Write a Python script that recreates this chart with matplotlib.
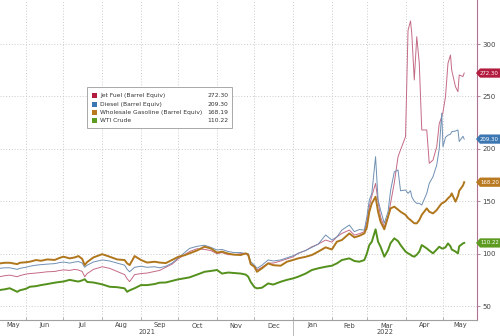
import matplotlib
matplotlib.use('Agg')
import matplotlib.pyplot as plt
import matplotlib.dates as mdates
import matplotlib.transforms as mtransforms
from matplotlib.patches import Polygon, Rectangle
import pandas as pd

# sample dates (roughly twice a week, denser through the spring 2022 spike)
dates = [
    '2021-05-11', '2021-05-15', '2021-05-19', '2021-05-25', '2021-05-27',
    '2021-06-01', '2021-06-04', '2021-06-09', '2021-06-13', '2021-06-18', '2021-06-24', '2021-06-28',
    '2021-07-01', '2021-07-06', '2021-07-10', '2021-07-13', '2021-07-16', '2021-07-18', '2021-07-20', '2021-07-25',
    '2021-08-01', '2021-08-07', '2021-08-13', '2021-08-19', '2021-08-21', '2021-08-23', '2021-08-27',
    '2021-09-01', '2021-09-06', '2021-09-12', '2021-09-16', '2021-09-21', '2021-09-26',
    '2021-10-01', '2021-10-06', '2021-10-10', '2021-10-16', '2021-10-22', '2021-10-27',
    '2021-11-01', '2021-11-05', '2021-11-10', '2021-11-15', '2021-11-20', '2021-11-24', '2021-11-26', '2021-11-28',
    '2021-12-01', '2021-12-03', '2021-12-07', '2021-12-12', '2021-12-16', '2021-12-22', '2021-12-27',
    '2022-01-01', '2022-01-05', '2022-01-11', '2022-01-16', '2022-01-21', '2022-01-27',
    '2022-02-01', '2022-02-05', '2022-02-09', '2022-02-15', '2022-02-19', '2022-02-23', '2022-02-27',
    '2022-03-01', '2022-03-03', '2022-03-05', '2022-03-08', '2022-03-10', '2022-03-12',
    '2022-03-15', '2022-03-18', '2022-03-20', '2022-03-23', '2022-03-26', '2022-03-28',
    '2022-04-01', '2022-04-03', '2022-04-05', '2022-04-06', '2022-04-08', '2022-04-10', '2022-04-12',
    '2022-04-14', '2022-04-18', '2022-04-20', '2022-04-23', '2022-04-26', '2022-04-28', '2022-04-30',
    '2022-05-01', '2022-05-03', '2022-05-05', '2022-05-07', '2022-05-08',
    '2022-05-11', '2022-05-13', '2022-05-14', '2022-05-17', '2022-05-18',
]

jet_fuel = [
    78, 79, 79.5, 78, 79,
    80.5, 81, 81.5, 82, 82.7, 83, 84,
    84.5, 84, 85, 84.4, 83, 78, 81, 85,
    87.5, 86, 83, 80, 76, 73.3, 80,
    81, 81.5, 83, 84, 87, 90,
    95, 99, 102, 104.7, 104, 103,
    100, 101, 99, 99, 100, 100, 98, 90,
    87, 84.4, 87, 91, 91, 93, 95,
    97, 100.3, 103, 106.6, 109, 113,
    111, 116, 119.3, 122.5, 117.7, 119, 121,
    130, 145, 155, 167, 150, 135,
    125.7, 135, 148, 167.5, 192.5, 199,
    211.6, 313, 322, 310, 265.7, 307, 282,
    218, 218, 186.2, 189.3, 202, 224, 230.6,
    235, 249.7, 281.6, 289.5, 275,
    259.3, 254.5, 270.4, 269, 272.3,
]

diesel = [
    86, 86.5, 86.5, 85, 86,
    87, 88, 89, 89.5, 90, 90.5, 91.5,
    92, 91, 92, 92.5, 91, 87, 89, 92,
    94, 93, 91, 89, 85, 82.7, 87,
    88, 87, 87.5, 86.5, 88, 91,
    96, 101, 105, 107, 108, 106,
    103.5, 104, 102, 101, 101, 100, 100, 92.3,
    89, 86, 89, 94, 93, 94, 96,
    98, 100.3, 103, 106, 109, 117.8,
    113, 116, 122.5, 127.3, 121, 123, 122.5,
    135, 151.2, 157.5, 192.5, 151.2, 141.6,
    129, 140, 160, 178, 179.8, 160,
    160.7, 157.5, 160, 154.3, 150, 148, 148,
    146.4, 157.5, 167, 173.4, 184.6, 200, 234,
    202, 211, 213, 214, 216.3,
    217, 218, 207, 212, 209.3,
]

gasoline = [
    90.7, 91.3, 91.3, 90, 91.3,
    91.8, 92.3, 93.9, 93.2, 94.5, 94, 96,
    97.1, 95.5, 96.4, 97.7, 95, 89.1, 92, 96.4,
    99.5, 97.1, 94.5, 93.9, 90.7, 89.1, 97.7,
    94, 91.5, 92.3, 91.5, 91, 94,
    97, 98.5, 100.3, 103, 106.6, 105,
    101, 101.9, 100, 99, 98.7, 100.3, 99, 90,
    87.5, 82.7, 86, 90.7, 89, 88.5, 92.3,
    94, 95.5, 97, 98.7, 101.9, 106,
    104, 111.4, 113, 119.3, 115.5, 117, 119.3,
    125, 140, 148, 154.3, 140, 130.5,
    123.2, 135.2, 143.2, 144.8, 142, 140,
    137, 134, 132.1, 131, 129, 128.9, 132,
    137, 143.2, 140, 138.4, 141.6, 145, 148,
    148.5, 150, 152.8, 155, 157.5,
    149.6, 155, 160, 165, 168.19,
]

wti = [
    65.3, 66, 67, 63.6, 65,
    66.5, 68.4, 69, 70, 71, 72.3, 73,
    73.4, 75, 74, 73.4, 74.5, 75.6, 73, 72.5,
    70.7, 68.4, 68, 66.9, 63.6, 65, 67,
    70, 70, 71, 72.3, 72.5, 74,
    75.5, 76.5, 77.4, 80, 82.7, 83.5,
    84.4, 81, 82, 81.5, 81, 80, 78, 73,
    68, 66.9, 67.5, 71.6, 70.5, 73.2, 75,
    76.4, 78, 81, 84.4, 86, 87.5,
    88.5, 90.7, 93.9, 95.5, 93, 92.3, 93.9,
    100, 108.2, 111.4, 123.2, 111.4, 106.6,
    97.1, 103.4, 110, 114.6, 112, 108.2,
    102, 100.3, 99, 98, 97.1, 99, 101.9,
    108.2, 105, 103, 100.3, 104, 106.6, 105,
    104.9, 106, 109.8, 107, 104,
    102, 100.3, 107, 109.8, 110.22,
]

names = ['Jet Fuel (Barrel Equiv)', 'Diesel (Barrel Equiv)',
         'Wholesale Gasoline (Barrel Equiv)', 'WTI Crude']
legend_vals = ['272.30', '209.30', '168.19', '110.22']
tag_vals = ['272.30', '209.30', '168.20', '110.22']

line_colors = ['#c46a85', '#6f8fb3', '#b0761c', '#54901c']
line_widths = [0.7, 0.7, 1.4, 1.4]
tag_colors = ['#b31b3f', '#3b77b3', '#b9791f', '#5c9b1f']

x = pd.to_datetime(dates)
series = [jet_fuel, diesel, gasoline, wti]

W, H = 500, 336
fig = plt.figure(figsize=(W / 100, H / 100), dpi=100)
ax = fig.add_axes([0, 16 / H, 477 / W, 320 / H])

for vals, c, lw in zip(series, line_colors, line_widths):
    ax.plot(x, vals, color=c, lw=lw, solid_joinstyle='round', zorder=3)

x0 = pd.Timestamp('2021-05-11 04:00')
x1 = pd.Timestamp('2022-05-28 06:00')
ax.set_xlim(x0, x1)
ax.set_ylim(36.7, 342)

# grid + ticks
grid_kw = dict(color='#c4c4c4', lw=0.6, ls=(0, (1.2, 2.2)))
ax.set_yticks([50, 100, 150, 200, 250, 300])
ax.xaxis.set_major_locator(mdates.MonthLocator())
ax.xaxis.set_major_formatter(plt.NullFormatter())
ax.grid(True, which='major', **grid_kw)
ax.set_axisbelow(True)

ax.yaxis.tick_right()
ax.tick_params(axis='y', direction='out', length=2.5, width=0.6, color='#b07090',
               labelsize=5, labelcolor='#444444', pad=1.5)
ax.tick_params(axis='x', direction='in', length=2.5, width=0.6, color='#aaaaaa')

for s in ['top', 'left']:
    ax.spines[s].set_visible(False)
ax.spines['right'].set_color('#b07090')
ax.spines['right'].set_linewidth(0.8)
ax.spines['bottom'].set_color('#a0a0a0')
ax.spines['bottom'].set_linewidth(0.8)

# month labels centred in each visible month (positions in pixel rows below the axis)
bt = mtransforms.blended_transform_factory(ax.transData, fig.transFigure)
months = pd.date_range('2021-05-01', '2022-06-01', freq='MS')
for a, b in zip(months[:-1], months[1:]):
    lo, hi = max(a, x0), min(b, x1)
    mid = lo + (hi - lo) / 2
    ax.text(mdates.date2num(mid), 1 - 325.5 / H, a.strftime('%b'), transform=bt,
            ha='center', va='center', fontsize=4.8, color='#444444')

# year labels and separator
jan1 = pd.Timestamp('2022-01-01')
for lo, hi, yr in [(x0, jan1, '2021'), (jan1, x1, '2022')]:
    mid = lo + (hi - lo) / 2
    ax.text(mdates.date2num(mid), 1 - 332.3 / H, yr, transform=bt,
            ha='center', va='center', fontsize=4.8, color='#444444')
ax.plot([jan1, jan1], [1 - 320 / H, 0], transform=bt, color='#b0b0b0', lw=0.6,
        clip_on=False)

# value tags on the right axis
tt = mtransforms.blended_transform_factory(fig.transFigure, ax.transData)
hh = 4.4
for vals, c, lab in zip(series, tag_colors, tag_vals):
    v = vals[-1]
    pts = [(476 / W, v), (480 / W, v + hh), (1.0, v + hh), (1.0, v - hh), (480 / W, v - hh)]
    fig.patches.append(Polygon(pts, closed=True, transform=tt, facecolor=c,
                               edgecolor='none', zorder=5))
    fig.text(480 / W, v, lab, transform=tt, ha='left', va='center',
             fontsize=3.9, color='white', zorder=6)

# legend box
def fx(px):
    return px / W

def fy(py):
    return 1 - py / H

fig.patches.append(Rectangle((fx(87), fy(128)), fx(232) - fx(87), fy(87) - fy(128),
                             transform=fig.transFigure, facecolor='white',
                             edgecolor='#9a9a9a', lw=0.6, zorder=4))
rows = [95.7, 104.2, 112.6, 120.8]
for ry, nm, val, c in zip(rows, names, legend_vals, tag_colors):
    fig.patches.append(Rectangle((fx(92), fy(ry + 2.6)), fx(5.2), 5.2 / H,
                                 transform=fig.transFigure, facecolor=c,
                                 edgecolor='none', zorder=5))
    fig.text(fx(100), fy(ry), nm, ha='left', va='center', fontsize=4.3,
             color='#333333', zorder=6)
    fig.text(fx(228), fy(ry), val, ha='right', va='center', fontsize=4.3,
             color='#333333', zorder=6)

fig.savefig('out.png', dpi=100, facecolor='white')
